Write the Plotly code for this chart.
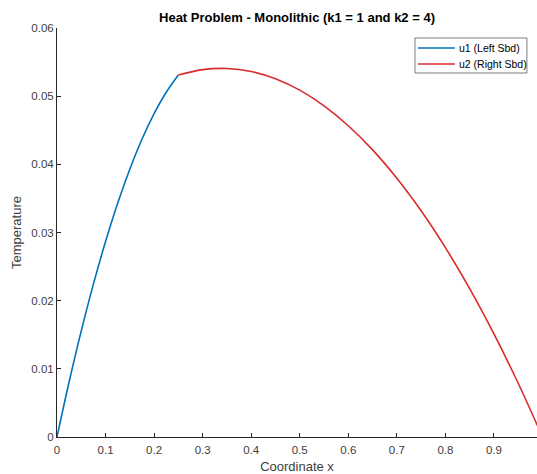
import plotly.graph_objects as go

# Left subdomain (k1 = 1)
x_left = [0, 0.025, 0.05, 0.075, 0.1, 0.125, 0.15, 0.175, 0.2, 0.225, 0.25]
u1 = [0, 0.0081, 0.01557, 0.02243, 0.02867, 0.03429, 0.03929, 0.04368, 0.04743, 0.05057, 0.0531]

# Right subdomain (k2 = 4)
x_right = [0.25, 0.3, 0.35, 0.4, 0.45, 0.5, 0.55, 0.6, 0.65, 0.7, 0.75, 0.8, 0.85, 0.9, 0.95, 1.0]
u2 = [0.0531, 0.05389, 0.05406, 0.05362, 0.05256, 0.05088, 0.04858, 0.04566, 0.04212,
      0.03796, 0.03318, 0.02778, 0.02177, 0.01513, 0.00788, 0.0]

series_names = ["u1 (Left Sbd)", "u2 (Right Sbd)"]
series_colors = ["#0072BD", "#D92B2B"]

x_ticks = [0, 0.1, 0.2, 0.3, 0.4, 0.5, 0.6, 0.7, 0.8, 0.9]
x_labels = ["0", "0.1", "0.2", "0.3", "0.4", "0.5", "0.6", "0.7", "0.8", "0.9"]
y_ticks = [0, 0.01, 0.02, 0.03, 0.04, 0.05, 0.06]
y_labels = ["0", "0.01", "0.02", "0.03", "0.04", "0.05", "0.06"]

FONT = "Liberation Sans, Arial, sans-serif"
AX = "#262626"
TICK = "#404040"

fig = go.Figure()
fig.add_trace(go.Scatter(x=x_left, y=u1, mode="lines", name=series_names[0],
                         line=dict(color=series_colors[0], width=1.6, shape="spline")))
fig.add_trace(go.Scatter(x=x_right, y=u2, mode="lines", name=series_names[1],
                         line=dict(color=series_colors[1], width=1.6, shape="spline")))

# MATLAB-style compact legend (paper coordinates of the plot area)
shapes = [dict(type="rect", xref="paper", yref="paper", x0=0.7458, x1=0.979, y0=0.890, y1=0.9756,
               line=dict(color=AX, width=0.6), fillcolor="white", layer="above")]
annotations = []
row_y = [0.951, 0.912]
for name, col, yy in zip(series_names, series_colors, row_y):
    shapes.append(dict(type="line", xref="paper", yref="paper", x0=0.752, x1=0.829, y0=yy, y1=yy,
                       line=dict(color=col, width=1.6), layer="above"))
    annotations.append(dict(text=name, xref="paper", yref="paper", x=0.833, y=yy,
                            xanchor="left", yanchor="middle", showarrow=False,
                            font=dict(size=10.5, color="#000000", family=FONT)))

fig.update_layout(
    width=537, height=474,
    margin=dict(l=57, r=0, t=28, b=37),
    paper_bgcolor="white", plot_bgcolor="white",
    font=dict(family=FONT, size=11, color=AX),
    title=dict(text="<b>Heat Problem - Monolithic (k1 = 1 and k2 = 4)</b>",
               x=(57 + 537) / 2 / 537, xanchor="center", y=1 - 17 / 474, yanchor="middle",
               font=dict(size=13, color="#000000", family=FONT)),
    showlegend=False,
    shapes=shapes,
    annotations=annotations,
)
fig.update_xaxes(range=[0, 0.9887], tickvals=x_ticks, ticktext=x_labels,
                 showgrid=False, zeroline=False, showline=True, linecolor=AX, linewidth=1,
                 ticks="inside", ticklen=4, tickcolor=AX, ticklabelstandoff=2,
                 tickfont=dict(size=11.5, color=TICK),
                 title=dict(text="Coordinate x", font=dict(size=13, color=TICK), standoff=8))
fig.update_yaxes(range=[0, 0.06], tickvals=y_ticks, ticktext=y_labels,
                 showgrid=False, zeroline=False, showline=True, linecolor=AX, linewidth=1,
                 ticks="inside", ticklen=4, tickcolor=AX,
                 tickfont=dict(size=11.5, color=TICK),
                 title=dict(text="Temperature", font=dict(size=13, color=TICK), standoff=6))

fig.write_html("out.html")
